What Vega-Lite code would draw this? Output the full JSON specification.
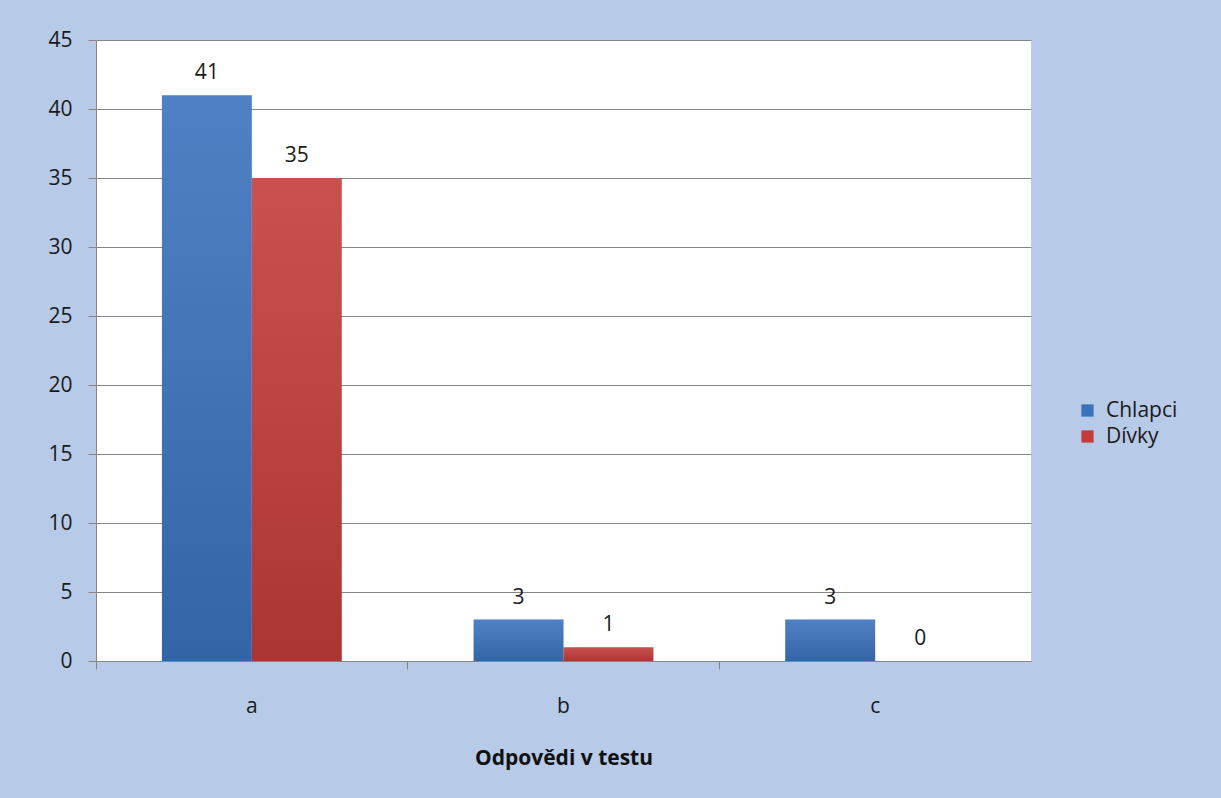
{
  "$schema": "https://vega.github.io/schema/vega-lite/v6.json",
  "width": 935,
  "height": 621,
  "autosize": {"type": "none"},
  "padding": {"left": 96, "top": 40, "right": 190, "bottom": 137},
  "background": "#b7cae7",
  "config": {
    "font": "Open Sans",
    "view": {"fill": "white", "stroke": null},
    "axis": {"labelFont": "Open Sans", "labelFontSize": 21, "labelColor": "#1a1a1a", "domainColor": "#868686", "tickColor": "#868686", "gridColor": "#868686", "gridOpacity": 1}
  },
  "data": {
    "values": [
      {"odpoved": "a", "skupina": "Chlapci", "pocet": 41},
      {"odpoved": "a", "skupina": "Dívky", "pocet": 35},
      {"odpoved": "b", "skupina": "Chlapci", "pocet": 3},
      {"odpoved": "b", "skupina": "Dívky", "pocet": 1},
      {"odpoved": "c", "skupina": "Chlapci", "pocet": 3},
      {"odpoved": "c", "skupina": "Dívky", "pocet": 0}
    ]
  },
  "encoding": {
    "x": {
      "field": "odpoved", "type": "nominal",
      "scale": {"paddingInner": 0, "paddingOuter": 0},
      "axis": {"title": "Odpovědi v testu", "titleFont": "Open Sans", "titleFontSize": 21, "titleFontWeight": "bold", "titleColor": "#111", "titlePadding": 31, "labelAngle": 0, "labelPadding": 26, "tickSize": 8, "bandPosition": 0, "grid": false}
    },
    "xOffset": {"field": "skupina", "type": "nominal", "scale": {"paddingInner": 0, "paddingOuter": 0.733}},
    "y": {
      "field": "pocet", "type": "quantitative",
      "scale": {"domain": [0, 45]},
      "axis": {"title": null, "values": [0, 5, 10, 15, 20, 25, 30, 35, 40, 45], "tickSize": 8, "labelPadding": 16, "grid": true}
    }
  },
  "layer": [
    {
      "mark": {"type": "bar"},
      "encoding": {
        "color": {
          "field": "skupina", "type": "nominal",
          "scale": {"domain": ["Chlapci", "Dívky"], "range": ["#3a72bc", "#c23c3a"]},
          "legend": {"title": null, "orient": "none", "legendX": 981, "legendY": 360, "symbolType": "square", "symbolSize": 150, "symbolStrokeWidth": 0, "labelFontSize": 21, "labelFont": "Open Sans", "labelColor": "#1a1a1a", "labelOffset": 8, "rowPadding": 4}
        }
      }
    },
    {
      "mark": {"type": "bar", "fill": {"gradient": "linear", "x1": 0, "y1": 0, "x2": 0, "y2": 1, "stops": [{"offset": 0, "color": "rgba(255,255,255,0.1)"}, {"offset": 1, "color": "rgba(0,0,0,0.12)"}]}}
    },
    {
      "mark": {"type": "text", "baseline": "bottom", "dy": -12, "fontSize": 21, "font": "Open Sans", "color": "#1a1a1a"},
      "encoding": {"text": {"field": "pocet", "type": "quantitative"}}
    }
  ]
}
